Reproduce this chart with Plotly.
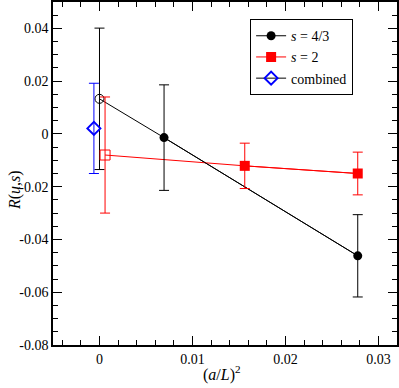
import plotly.graph_objects as go

# s = 4/3 series: (a/L)^2, R, error
x_s43 = [1/144, 1/36]
y_s43 = [-0.0014, -0.0462]
e_s43 = [0.0200, 0.0156]
x_s43_ext = [0.0]
y_s43_ext = [0.0133]
e_s43_ext = [0.0268]

# s = 2 series
x_s2 = [1/64, 1/36]
y_s2 = [-0.0121, -0.0150]
e_s2 = [0.0086, 0.0081]
x_s2_ext = [0.0006]
y_s2_ext = [-0.0080]
e_s2_ext = [0.0220]

# combined
x_comb = [-0.0006]
y_comb = [0.0021]
e_comb = [0.0171]

xtick_vals = [0, 0.01, 0.02, 0.03]
xtick_text = ["0", "0.01", "0.02", "0.03"]
ytick_vals = [-0.08, -0.06, -0.04, -0.02, 0, 0.02, 0.04]
ytick_text = ["-0.08", "-0.06", "-0.04", "-0.02", "0", "0.02", "0.04"]

FONT = "Times New Roman, Liberation Serif, serif"

fig = go.Figure()

# connecting lines incl. extrapolated point
fig.add_trace(go.Scatter(x=x_s43_ext + x_s43, y=y_s43_ext + y_s43, mode="lines",
                         line=dict(color="black", width=1), showlegend=False))
fig.add_trace(go.Scatter(x=x_s2_ext + x_s2, y=y_s2_ext + y_s2, mode="lines",
                         line=dict(color="red", width=1), showlegend=False))

# extrapolated (open) points
fig.add_trace(go.Scatter(x=x_s43_ext, y=y_s43_ext, mode="markers",
                         marker=dict(symbol="circle-open", size=9, color="black", line=dict(width=1)),
                         error_y=dict(type="data", array=e_s43_ext, color="black", thickness=1, width=5),
                         showlegend=False))
fig.add_trace(go.Scatter(x=x_s2_ext, y=y_s2_ext, mode="markers",
                         marker=dict(symbol="square-open", size=10, color="red", line=dict(width=1)),
                         error_y=dict(type="data", array=e_s2_ext, color="red", thickness=1, width=5),
                         showlegend=False))

# measured points
fig.add_trace(go.Scatter(x=x_s43, y=y_s43, mode="lines+markers", name="<i>s</i> = 4/3",
                         line=dict(color="black", width=1),
                         marker=dict(symbol="circle", size=9, color="black"),
                         error_y=dict(type="data", array=e_s43, color="black", thickness=1, width=5)))
fig.add_trace(go.Scatter(x=x_s2, y=y_s2, mode="lines+markers", name="<i>s</i> = 2",
                         line=dict(color="red", width=1),
                         marker=dict(symbol="square", size=10, color="red"),
                         error_y=dict(type="data", array=e_s2, color="red", thickness=1, width=5)))
fig.add_trace(go.Scatter(x=x_comb, y=y_comb, mode="lines+markers", name="combined",
                         line=dict(color="black", width=1),
                         marker=dict(symbol="diamond-open", size=10, color="blue", line=dict(width=2)),
                         error_y=dict(type="data", array=e_comb, color="blue", thickness=1, width=5)))

axis_common = dict(showgrid=False, zeroline=False, showline=True, mirror="allticks",
                   linecolor="black", linewidth=1.5, ticks="inside", ticklen=9,
                   tickcolor="black", tickwidth=1, automargin=False,
                   tickfont=dict(family=FONT, size=14, color="black"))

fig.update_xaxes(range=[-0.005, 0.032], tickmode="array", tickvals=xtick_vals, ticktext=xtick_text,
                 minor=dict(dtick=0.002, tick0=0, ticks="inside", ticklen=5, tickcolor="black"),
                 **axis_common)
fig.update_yaxes(range=[-0.08, 0.05], tickmode="array", tickvals=ytick_vals, ticktext=ytick_text,
                 minor=dict(dtick=0.005, tick0=0, ticks="inside", ticklen=5, tickcolor="black"),
                 **axis_common)

# axis titles
fig.add_annotation(text="(<i>a</i>/<i>L</i>)<sup>2</sup>", xref="paper", yref="paper",
                   x=0.49, y=-0.046, xanchor="center", yanchor="top", showarrow=False,
                   font=dict(family=FONT, size=16, color="black"))
fig.add_annotation(text="<i>R</i>(<i>u</i>,<i>s</i>)", xref="paper", yref="paper",
                   x=-0.11, y=0.452, xanchor="center", yanchor="middle", showarrow=False,
                   textangle=-90, font=dict(family=FONT, size=16, color="black"))

fig.update_layout(width=399, height=388, margin=dict(l=53, r=2, t=2, b=43),
                  plot_bgcolor="white", paper_bgcolor="white",
                  font=dict(family=FONT, color="black"),
                  legend=dict(x=0.573, y=0.95, xanchor="left", yanchor="top",
                              bordercolor="black", borderwidth=1, bgcolor="white",
                              font=dict(family=FONT, size=14, color="black"),
                              tracegroupgap=0, itemwidth=30))

# page body has a default margin; drop it so the figure sits at the window corner
fig.write_html("out.html", config={"displayModeBar": False},
               post_script="document.body.style.margin='0';")
